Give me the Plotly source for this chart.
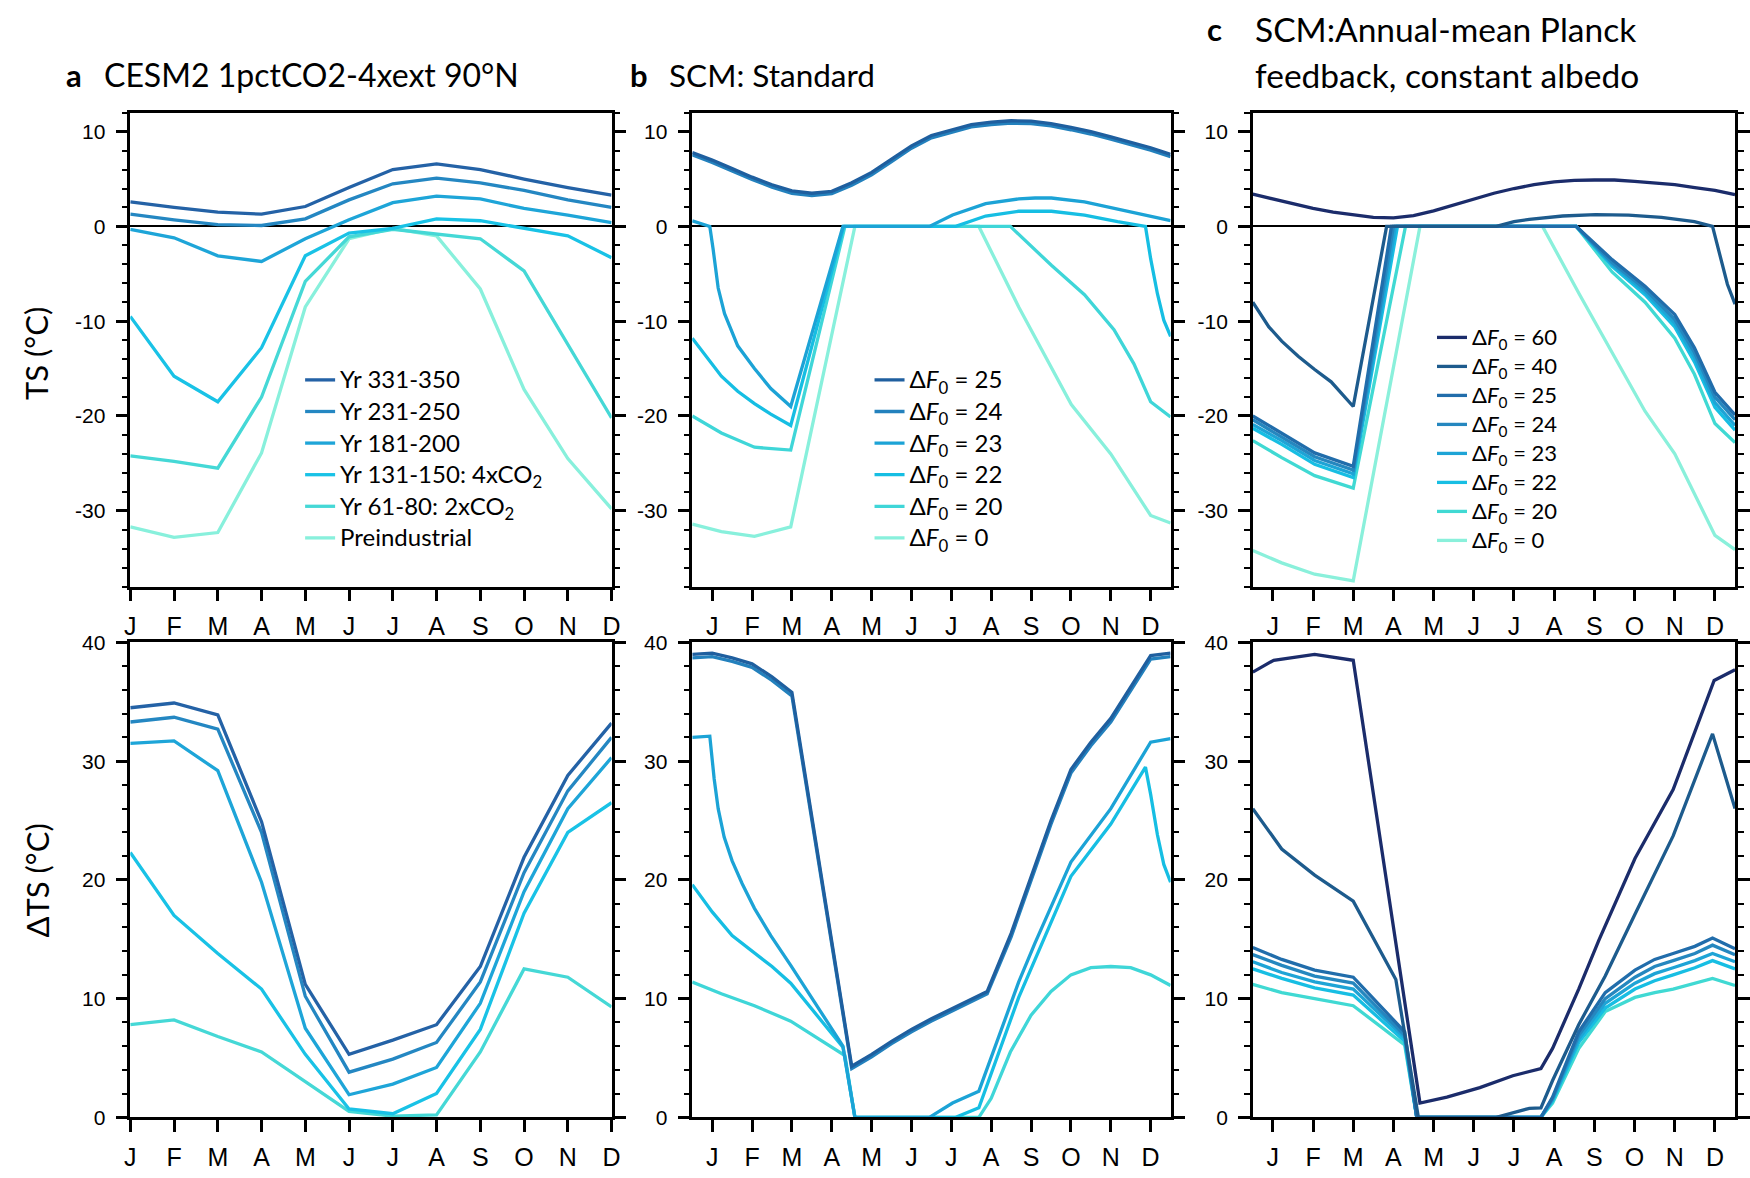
import plotly.graph_objects as go

# ---------------- shared ----------------
MONTH_LABELS = ["J", "F", "M", "A", "M", "J", "J", "A", "S", "O", "N", "D"]
MONTH_TICKS = [1, 2, 3, 4, 5, 6, 7, 8, 9, 10, 11, 12]
TOP_TICKS = [-30, -20, -10, 0, 10]
BOT_TICKS = [0, 10, 20, 30, 40]

# ---------------- panel a (CESM2, monthly) ----------------
A_X = [1, 2, 3, 4, 5, 6, 7, 8, 9, 10, 11, 12]
A_NAMES = ["Yr 331-350", "Yr 231-250", "Yr 181-200", "Yr 131-150: 4xCO<sub>2</sub>",
           "Yr 61-80: 2xCO<sub>2</sub>", "Preindustrial"]
A_COLORS = ["#2462a6", "#2487c2", "#1ea5d8", "#19c2e6", "#45d8d6", "#88f0dc"]

A_TS_331 = [2.6, 2.0, 1.5, 1.3, 2.1, 4.1, 6.0, 6.6, 6.0, 5.0, 4.1, 3.3]
A_TS_231 = [1.3, 0.7, 0.2, 0.1, 0.8, 2.8, 4.5, 5.1, 4.6, 3.8, 2.8, 2.0]
A_TS_181 = [-0.3, -1.2, -3.1, -3.7, -1.3, 0.7, 2.5, 3.2, 2.9, 1.9, 1.2, 0.4]
A_TS_131 = [-9.5, -15.8, -18.5, -12.8, -3.1, -0.7, -0.2, 0.8, 0.6, -0.2, -1.0, -3.3]
A_TS_061 = [-24.2, -24.8, -25.5, -18.0, -5.8, -1.1, -0.3, -0.8, -1.3, -4.7, -12.5, -20.2]
A_TS_PI = [-31.7, -32.8, -32.3, -23.9, -8.5, -1.3, -0.2, -1.0, -6.6, -17.2, -24.5, -29.8]

A_DTS_331 = [34.5, 34.9, 33.9, 24.9, 11.2, 5.3, 6.5, 7.8, 12.7, 21.9, 28.8, 33.2]
A_DTS_231 = [33.3, 33.7, 32.7, 24.0, 10.2, 3.8, 4.9, 6.3, 11.4, 20.6, 27.5, 32.0]
A_DTS_181 = [31.5, 31.7, 29.2, 19.8, 7.5, 1.9, 2.8, 4.2, 9.6, 19.0, 26.0, 30.3]
A_DTS_131 = [22.3, 17.0, 13.8, 10.8, 5.3, 0.7, 0.3, 2.0, 7.4, 17.2, 24.0, 26.5]
A_DTS_061 = [7.8, 8.2, 6.8, 5.5, 3.0, 0.5, 0.1, 0.2, 5.5, 12.5, 11.8, 9.3]

# ---------------- panel b (SCM standard) ----------------
B_NAMES = ["Δ<i>F</i><sub>0</sub> = 25", "Δ<i>F</i><sub>0</sub> = 24", "Δ<i>F</i><sub>0</sub> = 23",
           "Δ<i>F</i><sub>0</sub> = 22", "Δ<i>F</i><sub>0</sub> = 20", "Δ<i>F</i><sub>0</sub> = 0"]
B_COLORS = ["#1f5f9f", "#2381bd", "#1ca3d6", "#16bee3", "#3fd6d8", "#88f0dc"]

B_SMOOTH_X = [0.5, 1, 1.5, 2, 2.5, 3, 3.5, 4, 4.5, 5, 5.5, 6, 6.5, 7, 7.5, 8, 8.5, 9, 9.5,
              10, 10.5, 11, 11.5, 12, 12.5]
B_TS_25 = [7.8, 7.0, 6.1, 5.2, 4.4, 3.75, 3.5, 3.7, 4.6, 5.7, 7.1, 8.5, 9.6, 10.2, 10.75,
           11.0, 11.15, 11.1, 10.85, 10.45, 10.0, 9.45, 8.9, 8.3, 7.6]
B_TS_24 = [7.55, 6.75, 5.85, 4.95, 4.15, 3.5, 3.25, 3.45, 4.35, 5.45, 6.85, 8.25, 9.35, 9.95,
           10.5, 10.75, 10.9, 10.85, 10.6, 10.2, 9.75, 9.2, 8.65, 8.05, 7.35]
B_TS_23_X = [0.5, 0.94, 1.02, 1.15, 1.31, 1.64, 2.06, 2.47, 2.97, 4.28, 6.45, 7.03, 7.86,
             8.69, 9.1, 9.51, 10.34, 11.17, 12.0, 12.5]
B_TS_23 = [0.6, 0.0, -2.3, -6.5, -9.2, -12.6, -15.0, -17.1, -19.0, 0.0, 0.0, 1.2, 2.4,
           2.9, 3.0, 3.0, 2.6, 1.85, 1.1, 0.6]
B_TS_22_X = [0.5, 0.9, 1.23, 1.64, 2.06, 2.47, 2.97, 4.3, 7.11, 7.86, 8.69, 9.51, 10.34,
             11.17, 11.87, 12.0, 12.17, 12.33, 12.5]
B_TS_22 = [-11.8, -14.0, -15.8, -17.4, -18.7, -19.8, -21.0, 0.0, 0.0, 1.1, 1.6, 1.6, 1.2,
           0.5, 0.0, -3.4, -7.1, -9.9, -11.6]
B_TS_20_X = [0.5, 1.23, 2.06, 2.97, 4.33, 8.48, 9.51, 10.34, 11.08, 11.58, 12.0, 12.5]
B_TS_20 = [-20.0, -21.8, -23.3, -23.6, 0.0, 0.0, -4.1, -7.2, -10.9, -14.5, -18.5, -20.1]
B_TS_0_X = [0.5, 1.23, 2.06, 2.97, 4.58, 7.69, 8.69, 10.01, 11.0, 12.0, 12.5]
B_TS_0 = [-31.4, -32.2, -32.7, -31.7, 0.0, 0.0, -8.5, -18.8, -24.0, -30.5, -31.3]

B_DTS_25_X = [0.5, 1, 1.5, 2, 2.5, 3, 4.5, 5, 5.5, 6, 6.5, 7, 7.5, 7.9, 8.5, 9, 9.5, 10,
              10.5, 11, 11.5, 12, 12.5]
B_DTS_25 = [39.0, 39.1, 38.7, 38.2, 37.1, 35.8, 4.3, 5.3, 6.4, 7.4, 8.3, 9.1, 9.9, 10.6,
            15.5, 20.3, 25.0, 29.3, 31.6, 33.6, 36.3, 38.9, 39.1]
B_DTS_24 = [38.7, 38.8, 38.4, 37.9, 36.8, 35.5, 4.1, 5.1, 6.2, 7.2, 8.1, 8.9, 9.7, 10.4,
            15.2, 20.0, 24.7, 29.0, 31.3, 33.3, 36.0, 38.6, 38.8]
B_DTS_23_X = [0.5, 0.94, 1.05, 1.15, 1.3, 1.5, 1.75, 2.06, 2.47, 2.97, 4.28, 4.58, 6.45,
              7.03, 7.69, 8.69, 9.1, 10.0, 11.0, 12.0, 12.5]
B_DTS_23 = [32.0, 32.1, 28.5, 26.0, 23.6, 21.6, 19.7, 17.6, 15.3, 12.8, 6.0, 0.0, 0.0,
            1.2, 2.2, 11.4, 14.7, 21.5, 26.0, 31.6, 31.9]
B_DTS_22_X = [0.5, 1.0, 1.5, 2.0, 2.5, 2.97, 4.28, 4.58, 7.11, 7.69, 8.69, 10.0, 11.0,
              11.87, 12.0, 12.17, 12.33, 12.5]
B_DTS_22 = [19.6, 17.3, 15.3, 14.0, 12.7, 11.3, 5.9, 0.0, 0.0, 0.8, 10.1, 20.3, 24.7,
            29.5, 27.2, 23.8, 21.3, 19.8]
B_DTS_20_X = [0.5, 1.23, 2.06, 2.97, 4.33, 4.58, 7.69, 8.0, 8.48, 9.0, 9.5, 10.0, 10.5,
              11.0, 11.5, 12.0, 12.5]
B_DTS_20 = [11.4, 10.4, 9.4, 8.1, 5.2, 0.0, 0.0, 1.6, 5.5, 8.6, 10.6, 12.0, 12.6, 12.7,
            12.6, 12.0, 11.1]

# ---------------- panel c (SCM annual-mean Planck, const. albedo) ----------------
C_NAMES = ["Δ<i>F</i><sub>0</sub> = 60", "Δ<i>F</i><sub>0</sub> = 40", "Δ<i>F</i><sub>0</sub> = 25",
           "Δ<i>F</i><sub>0</sub> = 24", "Δ<i>F</i><sub>0</sub> = 23", "Δ<i>F</i><sub>0</sub> = 22",
           "Δ<i>F</i><sub>0</sub> = 20", "Δ<i>F</i><sub>0</sub> = 0"]
C_COLORS = ["#1b2c6b", "#1d5b8d", "#216dab", "#2587bf", "#1ea4d6", "#17bee3", "#40d9d3",
            "#8af0db"]

C_TS_60_X = [0.5, 1, 1.5, 2, 2.5, 3, 3.5, 4, 4.5, 5, 5.5, 6, 6.5, 7, 7.5, 8, 8.5, 9, 9.5,
             10, 10.5, 11, 11.5, 12, 12.5]
C_TS_60 = [3.4, 2.9, 2.4, 1.9, 1.5, 1.25, 0.95, 0.9, 1.15, 1.65, 2.25, 2.9, 3.5, 4.0, 4.4,
           4.7, 4.85, 4.9, 4.9, 4.75, 4.6, 4.4, 4.1, 3.8, 3.35]
C_TS_40_X = [0.5, 0.9, 1.22, 1.63, 2.04, 2.45, 3.0, 3.83, 6.56, 7.0, 7.38, 8.21, 9.03,
             9.85, 10.67, 11.49, 11.94, 12.14, 12.31, 12.5]
C_TS_40 = [-8.0, -10.6, -12.1, -13.7, -15.1, -16.4, -19.0, 0.0, 0.0, 0.5, 0.75, 1.1, 1.25,
           1.2, 0.95, 0.5, 0.0, -3.4, -6.1, -8.2]
C_TS_25_X = [0.5, 1.22, 2.04, 3.0, 3.95, 8.55, 9.44, 10.26, 11.0, 11.49, 12.0, 12.5]
C_TS_25 = [-20.0, -21.8, -23.9, -25.3, 0.0, 0.0, -3.5, -6.3, -9.3, -12.8, -17.5, -19.9]
C_TS_24_X = [0.5, 1.22, 2.04, 3.0, 4.0, 8.55, 9.44, 10.26, 11.0, 11.49, 12.0, 12.5]
C_TS_24 = [-20.4, -22.2, -24.3, -25.7, 0.0, 0.0, -3.8, -6.6, -9.8, -13.3, -18.0, -20.4]
C_TS_23_X = [0.5, 1.22, 2.04, 3.0, 4.05, 8.55, 9.44, 10.26, 11.0, 11.49, 12.0, 12.5]
C_TS_23 = [-20.9, -22.6, -24.7, -26.1, 0.0, 0.0, -4.0, -6.9, -10.2, -13.8, -18.6, -21.0]
C_TS_22_X = [0.5, 1.22, 2.04, 3.0, 4.1, 8.55, 9.44, 10.26, 11.0, 11.49, 12.0, 12.5]
C_TS_22 = [-21.3, -23.0, -25.1, -26.5, 0.0, 0.0, -4.2, -7.2, -10.6, -14.3, -19.1, -21.5]
C_TS_20_X = [0.5, 1.22, 2.04, 3.0, 4.3, 8.55, 9.44, 10.26, 11.0, 11.49, 12.0, 12.5]
C_TS_20 = [-22.6, -24.4, -26.3, -27.6, 0.0, 0.0, -4.8, -8.0, -11.8, -15.6, -20.8, -22.8]
C_TS_0_X = [0.5, 1.22, 2.04, 3.0, 4.66, 7.71, 8.62, 9.44, 10.26, 11.0, 12.0, 12.5]
C_TS_0 = [-34.2, -35.5, -36.7, -37.4, 0.0, 0.0, -7.1, -13.3, -19.5, -24.0, -32.6, -34.1]

C_DTS_60_X = [0.5, 1.02, 2.04, 3.0, 4.66, 5.33, 6.15, 6.97, 7.67, 7.96, 8.61, 9.11, 10.01,
              10.96, 11.98, 12.5]
C_DTS_60 = [37.5, 38.5, 39.0, 38.5, 1.2, 1.7, 2.5, 3.5, 4.1, 5.8, 10.8, 14.9, 21.8, 27.6,
            36.8, 37.7]
C_DTS_40_X = [0.5, 1.22, 2.04, 3.0, 4.06, 4.3, 4.62, 6.56, 7.38, 7.67, 7.96, 8.61, 9.27,
              10.01, 10.96, 11.94, 12.5]
C_DTS_40 = [26.0, 22.6, 20.4, 18.2, 11.6, 6.5, 0.0, 0.0, 0.75, 0.8, 3.1, 7.8, 11.9, 17.1,
            23.7, 32.3, 26.0]
C_DTS_B_X = [0.5, 1.22, 2.04, 3.0, 4.28, 4.58, 7.67, 7.96, 8.61, 9.27, 10.01, 10.5, 10.96,
             11.5, 11.94, 12.5]
C_DTS_25 = [14.3, 13.3, 12.4, 11.8, 7.2, 0.0, 0.0, 1.7, 7.2, 10.5, 12.4, 13.3, 13.8, 14.4,
            15.1, 14.2]
C_DTS_24 = [13.7, 12.8, 11.9, 11.3, 6.9, 0.0, 0.0, 1.6, 6.9, 10.0, 11.8, 12.7, 13.2, 13.8,
            14.5, 13.7]
C_DTS_23 = [13.1, 12.2, 11.4, 10.8, 6.7, 0.0, 0.0, 1.5, 6.6, 9.6, 11.3, 12.1, 12.6, 13.2,
            13.8, 13.1]
C_DTS_22 = [12.5, 11.7, 10.9, 10.3, 6.4, 0.0, 0.0, 1.4, 6.3, 9.2, 10.8, 11.5, 12.0, 12.6,
            13.2, 12.5]
C_DTS_20 = [11.2, 10.5, 10.0, 9.4, 6.1, 0.0, 0.0, 1.2, 5.8, 8.9, 10.1, 10.5, 10.8, 11.3,
            11.7, 11.1]

# ---------------- build ----------------
W, H = 1750, 1178
XTICK_FONT = dict(family="Liberation Sans, Arial, sans-serif", size=25, color="black")
YTICK_FONT = dict(family="Liberation Sans, Arial, sans-serif", size=21, color="black")
TEXT_FONT = "Lato, 'Open Sans', sans-serif"
LW = 3.3

fig = go.Figure()


def add(x, y, color, name, xa, ya, legend=None, size=24):
    fig.add_trace(go.Scatter(
        x=x, y=y, mode="lines",
        name='<span style="font-size:%dpx">%s</span>' % (size, name),
        line=dict(color=color, width=LW),
        xaxis=xa, yaxis=ya,
        showlegend=legend is not None,
        legend=legend if legend else "legend",
        hoverinfo="skip",
    ))


# panel a (lightest drawn first)
a_top = [(A_X, A_TS_331), (A_X, A_TS_231), (A_X, A_TS_181), (A_X, A_TS_131),
         (A_X, A_TS_061), (A_X, A_TS_PI)]
for i in reversed(range(6)):
    add(a_top[i][0], a_top[i][1], A_COLORS[i], A_NAMES[i], "x", "y", "legend", 24)
a_bot = [A_DTS_331, A_DTS_231, A_DTS_181, A_DTS_131, A_DTS_061]
for i in reversed(range(5)):
    add(A_X, a_bot[i], A_COLORS[i], A_NAMES[i], "x4", "y4")

# panel b
b_top = [(B_SMOOTH_X, B_TS_25), (B_SMOOTH_X, B_TS_24), (B_TS_23_X, B_TS_23),
         (B_TS_22_X, B_TS_22), (B_TS_20_X, B_TS_20), (B_TS_0_X, B_TS_0)]
for i in reversed(range(6)):
    add(b_top[i][0], b_top[i][1], B_COLORS[i], B_NAMES[i], "x2", "y2", "legend2", 24)
b_bot = [(B_DTS_25_X, B_DTS_25), (B_DTS_25_X, B_DTS_24), (B_DTS_23_X, B_DTS_23),
         (B_DTS_22_X, B_DTS_22), (B_DTS_20_X, B_DTS_20)]
for i in reversed(range(5)):
    add(b_bot[i][0], b_bot[i][1], B_COLORS[i], B_NAMES[i], "x5", "y5")

# panel c
c_top = [(C_TS_60_X, C_TS_60), (C_TS_40_X, C_TS_40), (C_TS_25_X, C_TS_25),
         (C_TS_24_X, C_TS_24), (C_TS_23_X, C_TS_23), (C_TS_22_X, C_TS_22),
         (C_TS_20_X, C_TS_20), (C_TS_0_X, C_TS_0)]
for i in reversed(range(8)):
    add(c_top[i][0], c_top[i][1], C_COLORS[i], C_NAMES[i], "x3", "y3", "legend3", 22)
c_bot = [(C_DTS_60_X, C_DTS_60), (C_DTS_40_X, C_DTS_40), (C_DTS_B_X, C_DTS_25),
         (C_DTS_B_X, C_DTS_24), (C_DTS_B_X, C_DTS_23), (C_DTS_B_X, C_DTS_22),
         (C_DTS_B_X, C_DTS_20)]
for i in reversed(range(7)):
    add(c_bot[i][0], c_bot[i][1], C_COLORS[i], C_NAMES[i], "x6", "y6")

# ---------------- axes ----------------
X_DOMS = [(125.5 / W, 611.5 / W), (693 / W, 1176 / W), (1259 / W, 1746 / W)]
Y_TOP = (1 - 586 / H, 1 - 102.7 / H)
Y_BOT = (1 - 1127.3 / H, 1 - 643 / H)


def xcfg(dom, anchor, rng):
    return dict(domain=dom, anchor=anchor, range=rng, tickmode="array",
                tickvals=MONTH_TICKS, ticktext=MONTH_LABELS, ticks="outside",
                ticklen=12, tickwidth=2.5, tickcolor="black", showline=True,
                linewidth=2.5, linecolor="black", mirror=True, showgrid=False,
                zeroline=False, tickfont=XTICK_FONT, ticklabelstandoff=4)


def ycfg(dom, anchor, rng, vals, zl):
    return dict(domain=dom, anchor=anchor, range=rng, tickmode="array",
                tickvals=vals, ticktext=[str(v) for v in vals], ticks="outside",
                ticklen=12, tickwidth=2.5, tickcolor="black", showline=True,
                linewidth=2.5, linecolor="black", mirror="ticks", showgrid=False,
                zeroline=zl, zerolinecolor="black", zerolinewidth=1.5,
                minor=dict(tickmode="linear", tick0=0, dtick=2, ticks="outside",
                           ticklen=6, tickwidth=2, tickcolor="black", showgrid=False),
                tickfont=YTICK_FONT, ticklabelstandoff=6)


layout = dict(
    width=W, height=H, margin=dict(l=0, r=0, t=0, b=0),
    paper_bgcolor="white", plot_bgcolor="white", showlegend=True,
)
xr = [[1, 12], [0.5, 12.5], [0.5, 12.5]]
for k in range(3):
    nt = "" if k == 0 else str(k + 1)
    nb = str(k + 4)
    layout["xaxis" + nt] = xcfg(X_DOMS[k], "y" + nt, xr[k])
    layout["yaxis" + nt] = ycfg(Y_TOP, "x" + nt, [-38, 12], TOP_TICKS, True)
    layout["xaxis" + nb] = xcfg(X_DOMS[k], "y" + nb, xr[k])
    layout["yaxis" + nb] = ycfg(Y_BOT, "x" + nb, [0, 40], BOT_TICKS, False)


def leg(xpx, ypx, size):
    return dict(x=xpx / W, y=1 - ypx / H, xanchor="left", yanchor="top",
                font=dict(family=TEXT_FONT, size=size, color="black"),
                bgcolor="rgba(0,0,0,0)", traceorder="reversed", itemwidth=30,
                tracegroupgap=0, borderwidth=0)


layout["legend"] = leg(297, 354, 22)
layout["legend2"] = leg(872, 354, 22)
layout["legend3"] = leg(1440, 312, 20)

fig.update_layout(**layout)


def note(text, xpx, ypx, size, angle=0, xanchor="left"):
    fig.add_annotation(text=text, x=xpx / W, y=1 - ypx / H, xref="paper", yref="paper",
                       xanchor=xanchor, yanchor="middle", showarrow=False,
                       textangle=angle,
                       font=dict(family=TEXT_FONT, size=size, color="black"))


note("<b>a</b>", 59, 64, 31)
note("CESM2 1pctCO2-4xext 90°N", 97, 64, 32)
note("<b>b</b>", 628, 64, 31)
note("SCM: Standard", 667, 64, 31.5)
note("<b>c</b>", 1211, 17, 31)
note("SCM:Annual-mean Planck", 1259, 17, 33.5)
note("feedback, constant albedo", 1259, 64, 33.5)
note("TS (°C)", 31, 348, 31, angle=-90, xanchor="center")
note("ΔTS (°C)", 31, 886, 31, angle=-90, xanchor="center")

fig.write_html("out.html")
